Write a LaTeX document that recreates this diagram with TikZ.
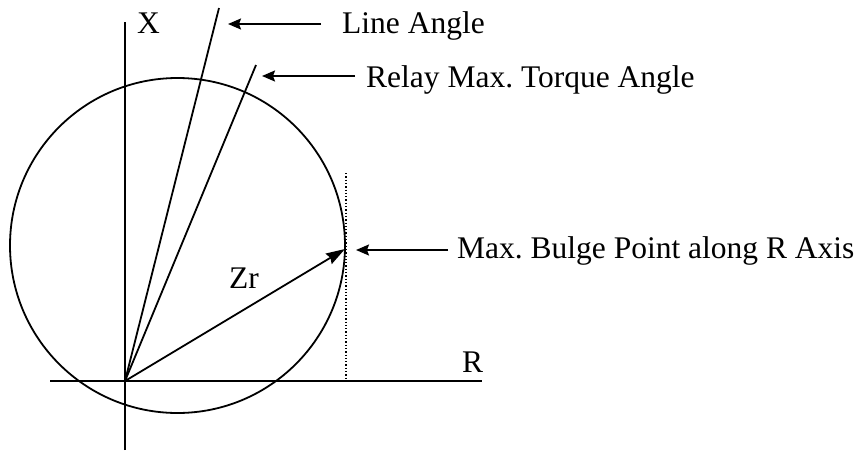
\documentclass[tikz,border=0pt]{standalone}
\usepackage{fontspec}
\setmainfont{Liberation Serif}
\frenchspacing
\usetikzlibrary{arrows.meta}
\tikzset{
  >={Stealth[length=13pt,width=11pt,inset=2pt]},
  axis/.style={line width=1.8pt},
  ray/.style={line width=1.8pt},
  pointer/.style={->,line width=1.8pt},
  lbl/.style={inner sep=0pt,anchor=base west,font=\fontsize{31.5}{36}\selectfont},
}
\begin{document}
\begin{tikzpicture}[x=1pt,y=-1pt]
  \useasboundingbox (0,0) rectangle (862,450);
  % axes
  \coordinate (O) at (125,381);
  \coordinate (xtop) at (125,22);
  \coordinate (xbot) at (125,450);
  \coordinate (rleft) at (50,381);
  \coordinate (rright) at (482,381);
  \draw[axis] (xbot) -- (xtop);
  \draw[axis] (rleft) -- (rright);
  \node[lbl] (xlbl) at (137,33) {X};
  \node[lbl] (rlbl) at (462,372) {R};
  % characteristic circle
  \draw[line width=1.8pt] (177.5,245.5) circle (167.5);
  % angle lines
  \coordinate (lineTop) at (219,8);
  \coordinate (relayTop) at (256,65);
  \draw[ray] (O) -- (lineTop);
  \draw[ray] (O) -- (relayTop);
  % bulge point and reach
  \coordinate (bulge) at (345,249);
  \coordinate (dotTop) at (346,173);
  \coordinate (dotBot) at (346,381);
  \draw[line width=1.3pt,dotted] (dotTop) -- (dotBot);
  \draw[ray,-{Stealth[length=19pt,width=12pt,inset=2pt]}] (O) -- (bulge);
  \node[lbl] (zr) at (229,288) {Zr};
  % callouts
  \node[lbl] (lineLbl) at (342,33) {Line Angle};
  \node[lbl] (relayLbl) at (366,87) {Relay Max. Torque Angle};
  \node[lbl] (bulgeLbl) at (457,258) {Max. Bulge Point along R Axis};
  \coordinate (lineTail) at (321,24);
  \coordinate (lineTip) at (228,24);
  \coordinate (relayTail) at (355,76);
  \coordinate (relayTip) at (262,76);
  \coordinate (bulgeTail) at (448,250);
  \coordinate (bulgeTip) at (356,250);
  \draw[pointer] (lineTail) -- (lineTip);
  \draw[pointer] (relayTail) -- (relayTip);
  \draw[pointer] (bulgeTail) -- (bulgeTip);
\end{tikzpicture}
\end{document}
